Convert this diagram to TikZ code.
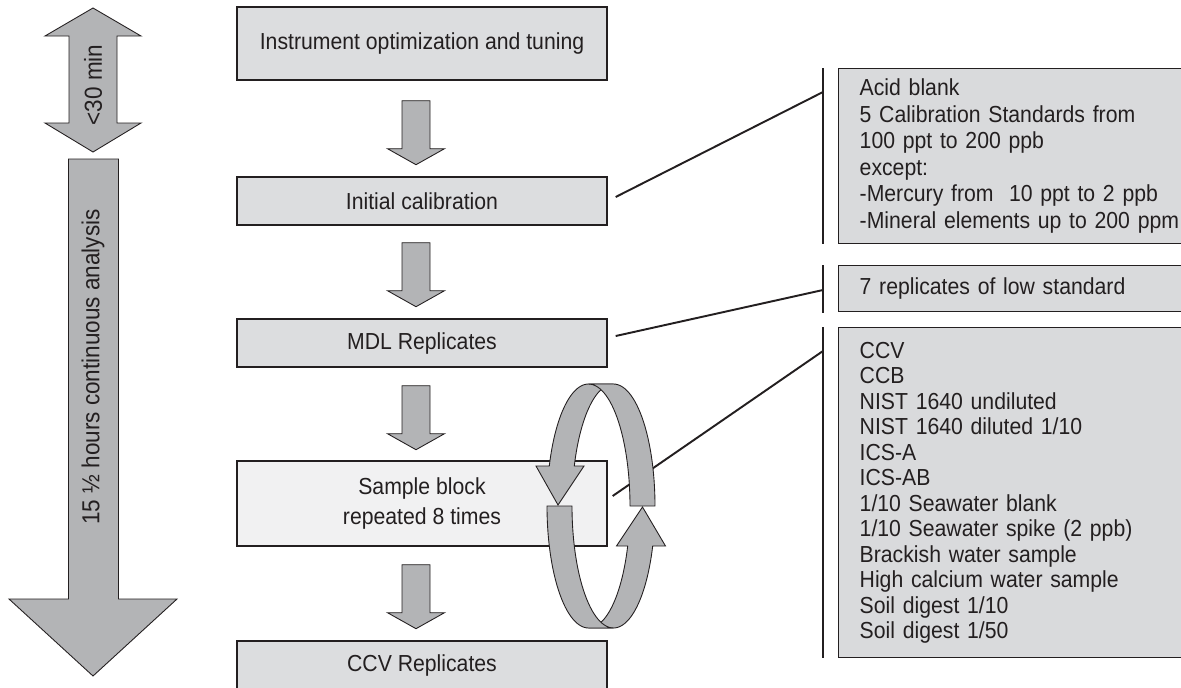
\documentclass[tikz,border=0pt]{standalone}
\usepackage{fontspec}
\setmainfont{Liberation Sans}[FakeStretch=0.915]
\usetikzlibrary{calc}
\definecolor{ink}{HTML}{231F20}
\definecolor{boxgray}{HTML}{DCDDDF}
\definecolor{lightbox}{HTML}{F1F1F2}
\definecolor{arrowgray}{HTML}{B3B4B6}
\definecolor{notegray}{HTML}{D9DADC}

\begin{document}
\begin{tikzpicture}[x=0.02cm,y=-0.02cm,
  stage/.style={draw=ink, line width=0.8pt, fill=boxgray, minimum width=7.4cm,
    minimum height=0.96cm, inner sep=0pt, text=ink,
    font=\fontsize{13.2}{15}\selectfont},
  note/.style={draw=ink, line width=0.8pt, fill=notegray, anchor=north west,
    align=left, inner xsep=0.42cm, inner ysep=0pt, text width=6.5cm, text=ink},
  blockarrow/.style={draw=ink, line width=0.5pt, fill=arrowgray, line join=miter},
  leader/.style={draw=ink, line width=1.1pt},
  bracket/.style={draw=ink, line width=1.3pt},
  sidelabel/.style={rotate=90, text=ink, font=\fontsize{14}{16}\selectfont},
  pics/flowarrow/.style={code={
    \path[blockarrow] (-14,0) -- (-14,48) -- (-28.5,48) -- (0,64) -- (28.5,48)
      -- (14,48) -- (14,0) -- cycle;}}
]
\useasboundingbox (0,0) rectangle (1181,687);
\clip (0,0) rectangle (1181,687);

% time arrows on the left
\path[blockarrow] (93,8) -- (141,36) -- (117,36) -- (117,123) -- (141,123)
  -- (93,152) -- (45,123) -- (69,123) -- (69,36) -- (45,36) -- cycle;
\node[sidelabel] (shortlabel) at (93,85) {<30 min};
\path[blockarrow] (68.5,159) -- (118.5,159) -- (118.5,599) -- (177,599)
  -- (93,676) -- (9,599) -- (68.5,599) -- cycle;
\node[sidelabel] (longlabel) at (93,367) {15 ½ hours continuous analysis};

% workflow stages
\node[stage, minimum height=1.46cm] (tune) at (422,43.5) {Instrument optimization and tuning};
\node[stage] (cal) at (422,201) {Initial calibration};
\node[stage] (mdl) at (422,343) {MDL Replicates};
\node[stage, fill=lightbox, minimum height=1.7cm, align=center,
  font=\fontsize{13.2}{17}\selectfont] (block) at (422,503.5) {Sample block\\repeated 8 times};
\node[stage] (ccv) at (422,665) {CCV Replicates};

\pic at ($(tune.south)+(-6,20)$) {flowarrow};
\pic at ($(cal.south)+(-6,17)$) {flowarrow};
\pic at ($(mdl.south)+(-6,18)$) {flowarrow};
\pic at ($(block.south)+(-6,18)$) {flowarrow};

% details of each stage
\node[note, minimum height=3.5cm, font=\fontsize{13.2}{15.1}\selectfont] (calnote) at (838,68)
  {Acid blank\\5 Calibration Standards from\\100 ppt to 200 ppb\\except:\\
   -Mercury from\ \ 10 ppt to 2 ppb\\-Mineral elements up to 200 ppm};
\node[note, minimum height=0.92cm, font=\fontsize{13.2}{15}\selectfont] (mdlnote) at (838,265)
  {7 replicates of low standard};
\node[note, minimum height=6.6cm, font=\fontsize{13.2}{14.5}\selectfont] (blocknote) at (838,327)
  {CCV\\CCB\\NIST 1640 undiluted\\NIST 1640 diluted 1/10\\ICS-A\\ICS-AB\\
   1/10 Seawater blank\\1/10 Seawater spike (2 ppb)\\Brackish water sample\\
   High calcium water sample\\Soil digest 1/10\\Soil digest 1/50};

% brackets and leader lines
\coordinate (calhook) at ($(calnote.north west)+(-15,24)$);
\coordinate (mdlhook) at ($(mdlnote.north west)+(-15,25)$);
\coordinate (blockhook) at ($(blocknote.north west)+(-15,24)$);
\draw[bracket] ($(calnote.north west)+(-15,0)$) -- ($(calnote.south west)+(-15,0)$);
\draw[bracket] ($(mdlnote.north west)+(-15,0)$) -- ($(mdlnote.south west)+(-15,1)$);
\draw[bracket] ($(blocknote.north west)+(-15,0)$) -- ($(blocknote.south west)+(-15,0)$);
\draw[leader] ($(cal.east)+(8,-4)$) -- (calhook);
\draw[leader] ($(mdl.east)+(8,-7)$) -- (mdlhook);
\draw[leader] ($(block.east)+(5,-7.5)$) -- (blockhook);

% repeat loop: a twisted band with two arrowheads
\path[blockarrow]
  plot[domain=90:160.86,samples=30] ({588.5+41.5*cos(\x)},{506-122*sin(\x)})
  -- (536,466) -- (558,505) -- (584,466)
  -- plot[domain=160.86:90,samples=30] ({613.5+41.5*cos(\x)},{506-122*sin(\x)}) -- cycle;
\path[blockarrow]
  plot[domain=90:0,samples=30] ({588.5+41.5*cos(\x)},{506-122*sin(\x)})
  -- plot[domain=0:90,samples=30] ({613.5+41.5*cos(\x)},{506-122*sin(\x)}) -- cycle;
\path[blockarrow] (616.5,546) -- (642.5,507) -- (665.5,546)
  -- plot[domain=-19.14:-90,samples=30] ({613.5+41.5*cos(\x)},{506-122*sin(\x)})
  -- plot[domain=-90:-19.14,samples=30] ({588.5+41.5*cos(\x)},{506-122*sin(\x)}) -- cycle;
\path[blockarrow]
  plot[domain=180:270,samples=30] ({588.5+41.5*cos(\x)},{506-122*sin(\x)})
  -- plot[domain=270:180,samples=30] ({613.5+41.5*cos(\x)},{506-122*sin(\x)}) -- cycle;
\end{tikzpicture}
\end{document}
